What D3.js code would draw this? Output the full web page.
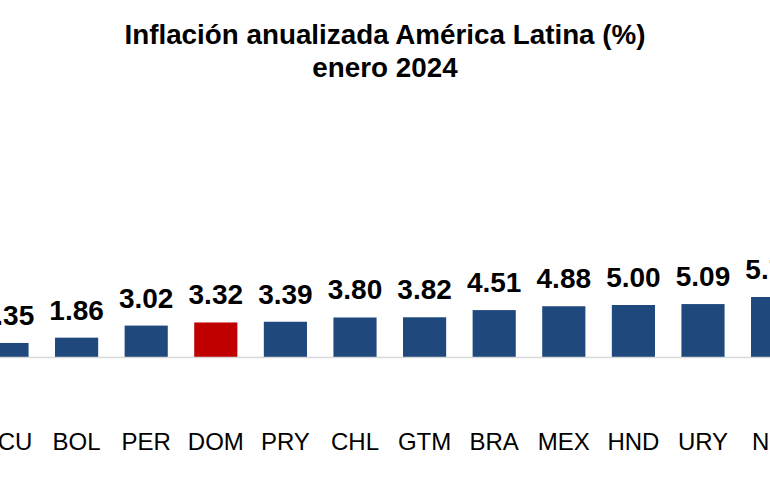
<!DOCTYPE html>
<html><head><meta charset="utf-8">
<script src="https://cdn.jsdelivr.net/npm/d3@7"></script>
<style>body{margin:0;background:#fff}svg{display:block}</style>
</head><body>
<script>
const categories = ["ECU","BOL","PER","DOM","PRY","CHL","GTM","BRA","MEX","HND","URY","NIC"];
const values = [1.35,1.86,3.02,3.32,3.39,3.80,3.82,4.51,4.88,5.00,5.09,5.77];
const highlight = ["DOM"];
const titleLines = ["Inflación anualizada América Latina (%)","enero 2024"];

const W=770,H=501;
const svg=d3.select("body").append("svg").attr("width",W).attr("height",H);
svg.append("rect").attr("width",W).attr("height",H).attr("fill","#fff");

const x=d3.scaleBand().domain(categories).range([-27.8,807.4]).paddingInner(0.38).paddingOuter(0.19);
const y=d3.scaleLinear().domain([0,1]).range([357,346.6]);

svg.append("g").selectAll("text").data(titleLines).join("text")
  .attr("x",385).attr("y",(d,i)=>44+i*33).attr("text-anchor","middle")
  .attr("font-family","Liberation Sans, Arial, sans-serif").attr("font-weight","bold")
  .attr("font-size",27.8).attr("fill","#000").text(d=>d);

svg.append("g").selectAll("rect").data(categories).join("rect")
  .attr("x",d=>x(d)).attr("width",x.bandwidth())
  .attr("y",(d,i)=>y(values[i])).attr("height",(d,i)=>y(0)-y(values[i]))
  .attr("fill",d=>highlight.includes(d)?"#C00000":"#1F497D");

svg.append("line").attr("x1",0).attr("x2",W).attr("y1",y(0)+0.5).attr("y2",y(0)+0.5)
  .attr("stroke","#d9d9d9").attr("stroke-width",1.5);

svg.append("g").selectAll("text").data(categories).join("text")
  .attr("x",d=>x(d)+x.bandwidth()/2).attr("y",(d,i)=>y(values[i])-18)
  .attr("text-anchor","middle").attr("font-family","Liberation Sans, Arial, sans-serif")
  .attr("font-weight","bold").attr("font-size",28).attr("fill","#000")
  .text((d,i)=>values[i].toFixed(2));

const xAxis=d3.axisBottom(x).tickSize(0).tickPadding(0);
const ax=svg.append("g").attr("transform","translate(0,450)").call(xAxis);
ax.select(".domain").remove();
ax.selectAll("text").attr("dy",0).attr("font-family","Liberation Sans, Arial, sans-serif")
  .attr("font-size",24).attr("fill","#000");
</script>
</body></html>
